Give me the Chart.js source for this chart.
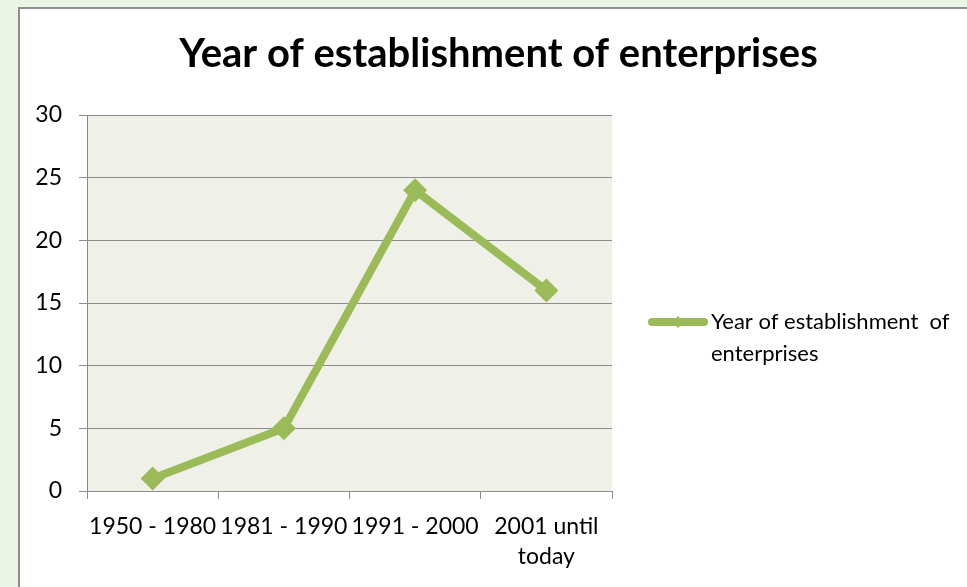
<!DOCTYPE html>
<html>
<head>
<meta charset="utf-8">
<title>Year of establishment of enterprises</title>
<script src="https://cdn.jsdelivr.net/npm/chart.js@4.4.1/dist/chart.umd.min.js"></script>
<style>
  html, body { margin: 0; padding: 0; }
  body { background: #ebf5e5; width: 967px; height: 587px; overflow: hidden; position: relative; }
  .frame { position: absolute; left: 18px; top: 7px; width: 960px; height: 600px; background: #fff; border: 2px solid #8d8d8d; }
  .frame canvas { position: absolute; left: 0; top: 0; }
</style>
</head>
<body>
<div class="frame"><canvas id="chart" width="948" height="578"></canvas></div>
<script>
// periods and number of enterprises founded in each
const periods = ['1950 - 1980', '1981 - 1990', '1991 - 2000', ['2001 until', 'today']];
const enterprises = [1, 5, 24, 16];
const seriesName = 'Year of establishment of enterprises';
const legendLines = ['Year of establishment  of', 'enterprises'];
const yMin = 0, yMax = 30, yStep = 5;

const GREEN = '#9bbb59';
const GRID = '#8c8c8c';
const FONT = 'Lato';

// light plot background behind the grid
const plotBg = {
    id: 'plotBg',
    beforeDraw(chart) {
        const { ctx, chartArea: a } = chart;
        ctx.save();
        ctx.fillStyle = '#eff1e9';
        ctx.fillRect(a.left, a.top, a.right - a.left, a.bottom - a.top);
        ctx.restore();
    }
};

// legend on the right, text wrapped on two lines
const sideLegend = {
    id: 'sideLegend',
    afterDraw(chart) {
        const { ctx, chartArea: a } = chart;
        const ds = chart.data.datasets[0];
        const x = a.right + 36;
        const y = (a.top + a.bottom) / 2 + 19;
        ctx.save();
        ctx.strokeStyle = ds.borderColor;
        ctx.lineWidth = 8;
        ctx.lineCap = 'round';
        ctx.beginPath();
        ctx.moveTo(x + 4, y);
        ctx.lineTo(x + 56, y);
        ctx.stroke();
        ctx.fillStyle = ds.borderColor;
        ctx.beginPath();
        ctx.moveTo(x + 30, y - 6);
        ctx.lineTo(x + 36, y);
        ctx.lineTo(x + 30, y + 6);
        ctx.lineTo(x + 24, y);
        ctx.closePath();
        ctx.fill();
        ctx.fillStyle = '#000';
        ctx.font = `22px ${FONT}`;
        ctx.textBaseline = 'middle';
        legendLines.forEach((t, i) => ctx.fillText(t, x + 63, y + i * 32));
        ctx.restore();
    }
};

new Chart(document.getElementById('chart'), {
    type: 'line',
    data: {
        labels: periods,
        datasets: [{
            label: seriesName,
            data: enterprises,
            borderColor: GREEN,
            backgroundColor: GREEN,
            borderWidth: 8,
            tension: 0,
            pointStyle: 'rectRot',
            pointRadius: 12,
            pointBorderWidth: 0,
            pointBackgroundColor: GREEN,
            yAxisID: 'y'
        }]
    },
    options: {
        responsive: false,
        animation: false,
        devicePixelRatio: 1,
        layout: { padding: { left: 9, right: 0, top: 0, bottom: 0 } },
        plugins: {
            legend: { display: false },
            tooltip: { enabled: false },
            title: {
                display: true,
                text: seriesName,
                color: '#000',
                font: { family: FONT, size: 40, weight: 'bold', lineHeight: 1.2 },
                padding: { top: 21, bottom: 37 }
            }
        },
        scales: {
            x: {
                offset: true,
                grid: { offset: true, drawOnChartArea: false, color: GRID, tickLength: 8, lineWidth: 1 },
                border: { color: GRID, width: 1 },
                ticks: { color: '#000', padding: 13, maxRotation: 0, autoSkip: false,
                         font: { family: FONT, size: 23, lineHeight: 1.3 } },
                afterFit(scale) { scale.height = 96; }
            },
            y: {
                min: yMin,
                max: yMax,
                grid: { color: GRID, tickLength: 8, lineWidth: 1 },
                border: { color: GRID, width: 1 },
                ticks: { stepSize: yStep, color: '#000', padding: 17,
                         font: { family: FONT, size: 23 } },
                afterFit(scale) { scale.width = 58; }
            },
            // empty right-hand axis that keeps room for the legend
            side: {
                type: 'linear',
                position: 'right',
                grid: { display: false },
                border: { display: false },
                ticks: { display: false },
                afterFit(scale) { scale.width = 356; }
            }
        }
    },
    plugins: [plotBg, sideLegend]
});
</script>
</body>
</html>
